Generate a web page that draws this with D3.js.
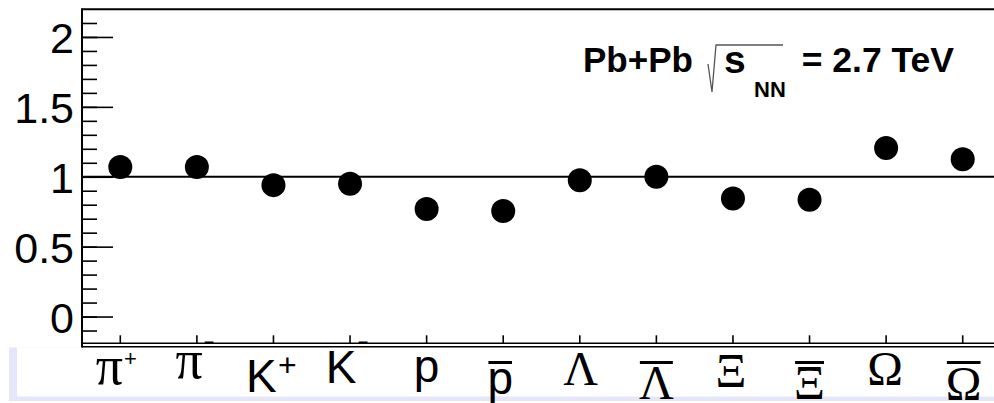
<!DOCTYPE html>
<html>
<head>
<meta charset="utf-8">
<script src="https://cdn.jsdelivr.net/npm/d3@7"></script>
<style>
body { margin: 0; background: #fff; }
svg { display: block; }
</style>
</head>
<body>
<script>
// particle species on the x axis and their ratio values
var categories = ["π+", "π−", "K+", "K−", "p", "p\u0304", "Λ", "Λ\u0304", "Ξ", "Ξ\u0304", "Ω", "Ω\u0304"];
var ratios = [1.07, 1.07, 0.94, 0.95, 0.77, 0.755, 0.975, 1.0, 0.845, 0.835, 1.205, 1.125];
var yTicks = [0, 0.5, 1, 1.5, 2];
var yDomain = [-0.2, 2.2];
var refValue = 1;

var sans = "'Liberation Sans', Arial, Helvetica, sans-serif",
    serif = "'Liberation Serif', 'Times New Roman', serif";

// label layout (ROOT draws these a bit staggered)
var labelBase = [384, 378, 392, 383, 382, 394, 385, 399, 387, 399, 385, 400];
var labelDx = [-4, -2, -2, -3, 0, -3, 1, 0, -2, 0, -1, 1];
var supStyle = {"+": [{size: 22, y: 366}, {size: 32, y: 376}], "−": {size: 18, y: 348}};

var width = 994, height = 403;

var x = d3.scaleBand()
    .domain(categories)
    .range([82, 1001])
    .padding(0);

var y = d3.scaleLinear()
    .domain(yDomain)
    .range([344.5, 9]);

var svg = d3.select("body").append("svg")
    .attr("width", width)
    .attr("height", height);

svg.append("rect")
    .attr("width", width)
    .attr("height", height)
    .style("fill", "white");

// lavender strip under the x axis
svg.append("rect")
    .attr("x", 9).attr("y", 347.5)
    .attr("width", width - 9).attr("height", 53.5)
    .style("fill", "#e6e6fa");
svg.append("rect")
    .attr("x", 17).attr("y", 347.5)
    .attr("width", width - 17).attr("height", 49)
    .style("fill", "white");

// y ticks (pointing inward), skipping the ones on the frame edges
var minorTicks = y.ticks(24).filter(d => d > yDomain[0] + 1e-6 && d < yDomain[1] - 1e-6);
var minor = svg.append("g")
    .attr("transform", "translate(82,0)")
    .call(d3.axisRight(y).tickValues(minorTicks).tickSize(15).tickFormat(""));
minor.select(".domain").remove();
minor.selectAll("line").style("stroke", "black").style("stroke-width", 1.6);

var major = svg.append("g")
    .attr("transform", "translate(82,0)")
    .call(d3.axisRight(y).tickValues(yTicks).tickSize(31).tickFormat(""));
major.select(".domain").remove();
major.selectAll("line").style("stroke", "black").style("stroke-width", 1.6);

svg.append("g").selectAll("text")
    .data(yTicks)
    .enter().append("text")
    .attr("x", 74)
    .attr("y", d => y(d) + 1)
    .attr("dy", "0.36em")
    .attr("text-anchor", "end")
    .style("font-family", sans)
    .style("font-size", "43px")
    .text(d => d);

// x ticks
var xt = svg.append("g")
    .attr("transform", "translate(0,343.3)")
    .call(d3.axisTop(x).tickSize(8).tickFormat(""));
xt.select(".domain").remove();
xt.selectAll("line").style("stroke", "black").style("stroke-width", 1.6);

// frame
var x0 = x.range()[0], x1 = x.range()[1];
svg.append("line")
    .attr("x1", x0).attr("x2", x1)
    .attr("y1", y(yDomain[1]) + 0.3).attr("y2", y(yDomain[1]) + 0.3)
    .style("stroke", "black").style("stroke-width", 2);
svg.append("line")
    .attr("x1", x0).attr("x2", x0)
    .attr("y1", y(yDomain[1]) - 0.7).attr("y2", 347.5)
    .style("stroke", "black").style("stroke-width", 2);
svg.append("line")
    .attr("x1", x0).attr("x2", x1)
    .attr("y1", 343.3).attr("y2", 343.3)
    .style("stroke", "black").style("stroke-width", 1.6);
svg.append("line")
    .attr("x1", x0).attr("x2", x1)
    .attr("y1", 346.7).attr("y2", 346.7)
    .style("stroke", "black").style("stroke-width", 1.6);

// reference line at 1
svg.append("line")
    .attr("x1", x0).attr("x2", x1)
    .attr("y1", y(refValue)).attr("y2", y(refValue))
    .style("stroke", "black").style("stroke-width", 2);

// points
svg.append("g").selectAll("circle")
    .data(categories)
    .enter().append("circle")
    .attr("cx", d => x(d) + x.bandwidth() / 2)
    .attr("cy", (d, i) => y(ratios[i]))
    .attr("r", 12)
    .style("fill", "black");

// x labels
var labels = svg.append("g");
var plusCount = 0;
categories.forEach(function(c, i) {
    var base = c.charAt(0), mark = c.slice(1);
    var greek = /[πΛΞΩ]/.test(base);
    var g = labels.append("g");
    var t = g.append("text")
        .attr("x", 0)
        .attr("y", labelBase[i])
        .style("font-family", greek ? serif : sans)
        .style("font-size", base === "π" ? "54px" : (greek ? "48px" : "46px"))
        .text(base);
    var bb = t.node().getBBox();
    if (mark === "+" || mark === "−") {
        var s = mark === "+" ? supStyle["+"][plusCount++] : supStyle["−"];
        g.append("text")
            .attr("x", bb.x + bb.width + 1)
            .attr("y", s.y)
            .style("font-family", sans)
            .style("font-size", s.size + "px")
            .text(mark);
    }
    if (mark === "\u0304") {
        g.append("line")
            .attr("x1", bb.x + 1).attr("x2", bb.x + bb.width - 1)
            .attr("y1", 362.5).attr("y2", 362.5)
            .style("stroke", "black").style("stroke-width", 3);
    }
    var gb = g.node().getBBox();
    g.attr("transform", "translate(" + (x(c) + x.bandwidth() / 2 - (gb.x + gb.width / 2) + labelDx[i]) + ",0)");
});

// title
var title = svg.append("g")
    .style("font-family", sans)
    .style("font-weight", "bold")
    .style("fill", "black");
title.append("text").attr("x", 583).attr("y", 72).style("font-size", "35px").text("Pb+Pb");
title.append("path")
    .attr("d", "M708,64 L712,92 L716,45 L783,45")
    .style("fill", "none").style("stroke", "#555").style("stroke-width", 1.3);
title.append("text").attr("x", 724).attr("y", 73).style("font-size", "39px").text("s");
title.append("text").attr("x", 754).attr("y", 97).style("font-size", "22px").text("NN");
title.append("text").attr("x", 954).attr("y", 72).attr("text-anchor", "end").style("font-size", "35.5px").text("= 2.7 TeV");
</script>
</body>
</html>
